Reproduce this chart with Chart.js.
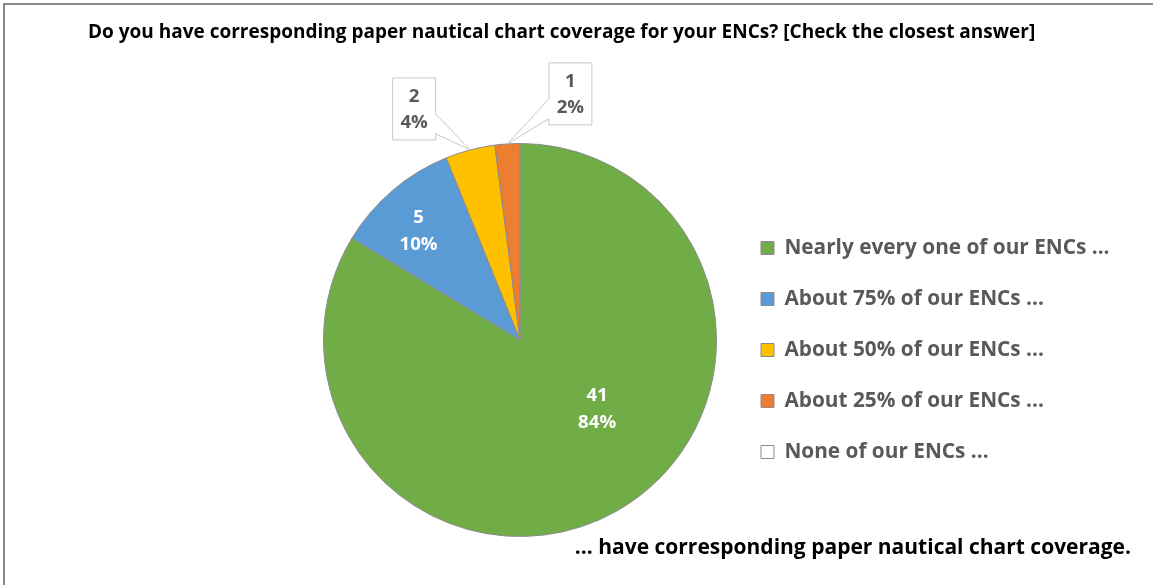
<!DOCTYPE html>
<html>
<head>
<meta charset="utf-8">
<script src="https://cdn.jsdelivr.net/npm/chart.js@4.4.1/dist/chart.umd.min.js"></script>
<style>
  html, body { margin: 0; padding: 0; background: #fff; }
</style>
</head>
<body>
<canvas id="coverage-chart" width="1153" height="585"></canvas>
<script>
const categories = [
  'Nearly every one of our ENCs ...',
  'About 75% of our ENCs ...',
  'About 50% of our ENCs ...',
  'About 25% of our ENCs ...',
  'None of our ENCs ...'
];
const counts = [41, 5, 2, 1, 0];
const sliceColors = ['#70AD47', '#5B9BD5', '#FFC000', '#ED7D31', '#FFFFFF'];
const titleText = 'Do you have corresponding paper nautical chart coverage for your ENCs? [Check the closest answer]';
const footText = '... have corresponding paper nautical chart coverage.';

// where each slice label goes: inside the slice, or in a callout box off the edge
const labelPlace = [
  { inside: true, shift: -19, frac: 0.525 },
  { inside: true, shift: -2.4, frac: 0.76 },
  { callout: true, dx: -56, dy: -41, side: 'right' },
  { callout: true, dx: 63, dy: -50, side: 'left' },
  null
];

const FONT = '"Open Sans"';

// pick a bold font size that makes a string about as wide as in the original
const measure = document.createElement('canvas').getContext('2d');
function fitSize(text, width) {
  measure.font = 'bold 100px ' + FONT;
  return Math.round(100 * width / measure.measureText(text).width * 10) / 10;
}
const titleSize = fitSize(titleText, 949);
const footSize = fitSize(footText, 555);
const legendSize = fitSize(categories[0], 325);
const labelSize = fitSize('84%', 38);

const legendPad = 51 - legendSize;
const targetBoxX = 761;
const pieCenterX = 520;

const chartText = {
  id: 'chartText',
  beforeDraw(chart) {
    const ctx = chart.ctx;
    ctx.save();
    ctx.fillStyle = '#fff';
    ctx.fillRect(0, 0, chart.width, chart.height);
    ctx.strokeStyle = '#8a8a8a';
    ctx.lineWidth = 2;
    ctx.strokeRect(4, 4, chart.width + 20, chart.height + 20);
    ctx.restore();
  },
  afterDraw(chart) {
    const ctx = chart.ctx;
    ctx.save();
    ctx.fillStyle = '#000';
    ctx.textBaseline = 'middle';
    ctx.font = 'bold ' + titleSize + 'px ' + FONT;
    ctx.textAlign = 'left';
    ctx.fillText(titleText, 88, 33);
    ctx.font = 'bold ' + footSize + 'px ' + FONT;
    ctx.textAlign = 'right';
    ctx.fillText(footText, 1131, 548);
    ctx.restore();
  }
};

const sliceLabels = {
  id: 'sliceLabels',
  afterDatasetsDraw(chart) {
    const ctx = chart.ctx;
    const meta = chart.getDatasetMeta(0);
    const total = counts.reduce((a, b) => a + b, 0);
    ctx.save();
    ctx.font = 'bold ' + labelSize + 'px ' + FONT;
    ctx.textAlign = 'center';
    ctx.textBaseline = 'middle';
    meta.data.forEach((arc, i) => {
      const place = labelPlace[i];
      if (!place || !counts[i]) return;
      const p = arc.getProps(['x', 'y', 'startAngle', 'endAngle', 'outerRadius'], true);
      const mid = (p.startAngle + p.endAngle) / 2;
      const lines = [String(counts[i]), Math.round(counts[i] / total * 100) + '%'];
      if (place.inside) {
        const a = mid + place.shift * Math.PI / 180;
        const cx = p.x + Math.cos(a) * p.outerRadius * place.frac;
        const cy = p.y + Math.sin(a) * p.outerRadius * place.frac;
        ctx.fillStyle = '#fff';
        ctx.fillText(lines[0], cx, cy - 13);
        ctx.fillText(lines[1], cx, cy + 14);
      } else {
        const tx = p.x + Math.cos(mid) * p.outerRadius;
        const ty = p.y + Math.sin(mid) * p.outerRadius;
        const w = 43, h = 62;
        const x0 = tx + place.dx - w / 2, y0 = ty + place.dy - h / 2;
        const x1 = x0 + w, y1 = y0 + h;
        const b1 = y0 + h * 0.58, b2 = y0 + h * 0.9;
        ctx.beginPath();
        if (place.side === 'right') {
          ctx.moveTo(x0, y0); ctx.lineTo(x1, y0); ctx.lineTo(x1, b1);
          ctx.lineTo(tx, ty); ctx.lineTo(x1, b2); ctx.lineTo(x1, y1);
          ctx.lineTo(x0, y1);
        } else {
          ctx.moveTo(x0, y0); ctx.lineTo(x1, y0); ctx.lineTo(x1, y1);
          ctx.lineTo(x0, y1); ctx.lineTo(x0, b2); ctx.lineTo(tx, ty);
          ctx.lineTo(x0, b1);
        }
        ctx.closePath();
        ctx.fillStyle = '#fff';
        ctx.fill();
        ctx.strokeStyle = '#c8c8c8';
        ctx.lineWidth = 1;
        ctx.stroke();
        ctx.fillStyle = '#595959';
        const cx = (x0 + x1) / 2, cy = (y0 + y1) / 2;
        ctx.fillText(lines[0], cx, cy - 12);
        ctx.fillText(lines[1], cx, cy + 14);
      }
    });
    ctx.restore();
  }
};

const ctx = document.getElementById('coverage-chart').getContext('2d');
const coverageChart = new Chart(ctx, {
  type: 'pie',
  plugins: [chartText, sliceLabels],
  data: {
    labels: categories,
    datasets: [{
      data: counts,
      backgroundColor: sliceColors,
      borderColor: '#8c8c8c',
      borderWidth: 1
    }]
  },
  options: {
    responsive: false,
    animation: false,
    layout: {
      padding: { top: 143, bottom: 48, left: 300, right: 40 }
    },
    plugins: {
      tooltip: { enabled: false },
      legend: {
        position: 'right',
        align: 'center',
        title: { display: true, text: ' ', font: { size: 10 }, padding: 4 },
        labels: {
          color: '#595959',
          font: { family: FONT, size: legendSize, weight: 'bold' },
          boxWidth: 13,
          boxHeight: 13,
          padding: legendPad
        }
      }
    }
  }
});

// nudge the paddings so the legend boxes and the pie centre land where they sit in the original
const pad = coverageChart.options.layout.padding;
for (let k = 0; k < 3; k++) {
  const boxX = coverageChart.legend.left + legendPad;
  pad.right -= targetBoxX - boxX;
  const area = coverageChart.chartArea;
  pad.left += 2 * (pieCenterX - (area.left + area.right) / 2) + (targetBoxX - boxX);
  coverageChart.update();
}
</script>
</body>
</html>
